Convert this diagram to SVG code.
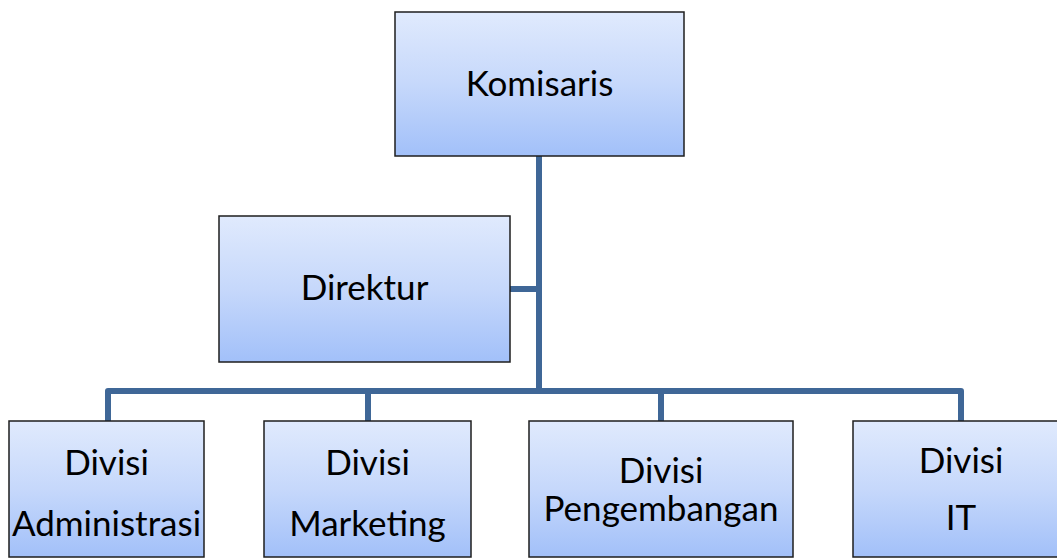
<svg xmlns="http://www.w3.org/2000/svg" width="1057" height="558" viewBox="0 0 1057 558">
<defs>
<linearGradient id="g" x1="0" y1="0" x2="0" y2="1">
<stop offset="0" stop-color="#E0EAFD"/>
<stop offset="0.5" stop-color="#C6D8FB"/>
<stop offset="1" stop-color="#A2C0F9"/>
</linearGradient>
<style>
.box{fill:url(#g);stroke:#1E1E1E;stroke-width:1.5}
.t{font-family:Lato,"Liberation Sans",sans-serif;font-size:35px;fill:#000;text-anchor:middle}
.c{fill:none;stroke:#3F6797;stroke-width:6;stroke-linejoin:round}
</style>
</defs>
<rect width="1057" height="558" fill="#fff"/>
<g id="connectors">
<path class="c" d="M539,156 V391"/>
<path class="c" d="M510,289 H539"/>
<path class="c" d="M108,421 V391 H961 V421"/>
<path class="c" d="M368,391 V421"/>
<path class="c" d="M661,391 V421"/>
</g>
<g id="komisaris">
<rect class="box" x="395" y="12" width="289" height="144"/>
<text class="t" x="539.5" y="96">Komisaris</text>
</g>
<g id="direktur">
<rect class="box" x="219" y="216" width="291" height="146"/>
<text class="t" x="364.5" y="300">Direktur</text>
</g>
<g id="divisi-administrasi">
<rect class="box" x="9" y="421" width="195" height="136"/>
<text class="t" x="106.5" y="475">Divisi</text>
<text class="t" x="106.5" y="536">Administrasi</text>
</g>
<g id="divisi-marketing">
<rect class="box" x="264" y="421" width="207" height="136"/>
<text class="t" x="367.5" y="475">Divisi</text>
<text class="t" x="367.5" y="536">Marketing</text>
</g>
<g id="divisi-pengembangan">
<rect class="box" x="529" y="421" width="264" height="136"/>
<text class="t" x="661" y="483">Divisi</text>
<text class="t" x="661" y="521">Pengembangan</text>
</g>
<g id="divisi-it">
<rect class="box" x="853" y="421" width="216" height="136"/>
<text class="t" x="961" y="473">Divisi</text>
<text class="t" x="961" y="530">IT</text>
</g>
</svg>
